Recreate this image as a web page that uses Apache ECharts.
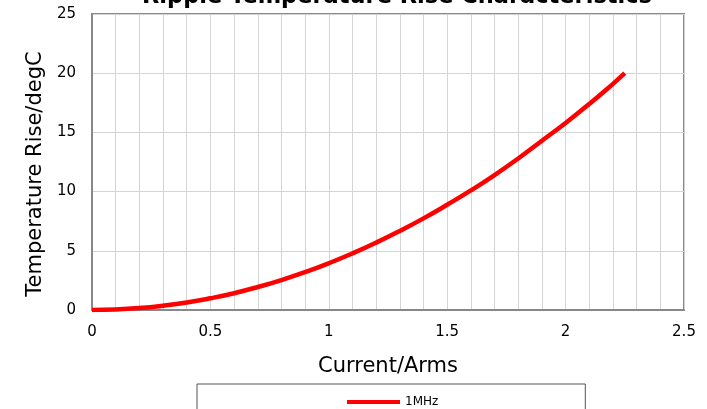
<!DOCTYPE html>
<html>
<head>
<meta charset="utf-8">
<script src="https://cdn.jsdelivr.net/npm/echarts@6/dist/echarts.min.js"></script>
<style>
  html, body { margin: 0; padding: 0; background: #fff; }
  #chart { width: 707px; height: 409px; }
</style>
</head>
<body>
<div id="chart"></div>
<script>
const currentArms = [0, 0.1, 0.2, 0.3, 0.4, 0.5, 0.6, 0.7, 0.8, 0.9, 1.0, 1.1, 1.2,
  1.3, 1.4, 1.5, 1.6, 1.7, 1.8, 1.9, 2.0, 2.1, 2.2, 2.25];
const tempRise1MHz = [0, 0.04, 0.16, 0.36, 0.63, 0.99, 1.42, 1.94, 2.53, 3.2, 3.95, 4.78, 5.69,
  6.68, 7.74, 8.89, 10.1, 11.4, 12.8, 14.3, 15.8, 17.4, 19.1, 20.0];

const FONT = '"DejaVu Sans", Verdana, sans-serif';
const chart = echarts.init(document.getElementById('chart'), null, { renderer: 'canvas' });

chart.setOption({
  animation: false,
  textStyle: { fontFamily: FONT },
  title: {
    text: 'Ripple Temperature Rise Characteristics',
    left: 137,
    top: -19,
    textStyle: { fontFamily: FONT, fontSize: 22.5, fontWeight: 'bold', color: '#000' }
  },
  grid: {
    left: 92, right: 23, top: 14, bottom: 99,
    show: true, borderColor: '#888', borderWidth: 2
  },
  legend: {
    data: ['1MHz'],
    icon: 'rect',
    left: 197,
    top: 384,
    padding: [12, 147, 12, 150],
    borderColor: '#555',
    borderWidth: 1,
    itemWidth: 53,
    itemHeight: 4,
    itemGap: 5,
    textStyle: { fontFamily: FONT, fontSize: 12, color: '#000' }
  },
  xAxis: {
    type: 'value',
    min: 0, max: 2.5, interval: 0.5,
    name: 'Current/Arms',
    nameLocation: 'middle',
    nameGap: 46,
    nameTextStyle: { fontFamily: FONT, fontSize: 21, color: '#000' },
    axisLine: { show: true, lineStyle: { color: '#888', width: 2 } },
    axisTick: { show: false },
    axisLabel: { margin: 15, fontSize: 15, color: '#000', fontFamily: FONT },
    splitLine: { show: true, lineStyle: { color: '#d4d4d4', width: 1 } },
    minorTick: { show: false, splitNumber: 5 },
    minorSplitLine: { show: true, lineStyle: { color: '#d4d4d4', width: 1 } }
  },
  yAxis: {
    type: 'value',
    min: 0, max: 25, interval: 5,
    name: 'Temperature Rise/degC',
    nameLocation: 'middle',
    nameGap: 45,
    nameTextStyle: { fontFamily: FONT, fontSize: 21, color: '#000', padding: [0, 24, 0, 0] },
    axisLine: { show: true, lineStyle: { color: '#888', width: 2 } },
    axisTick: { show: false },
    axisLabel: { margin: 16, fontSize: 15, color: '#000', fontFamily: FONT },
    splitLine: { show: true, lineStyle: { color: '#d4d4d4', width: 1 } }
  },
  series: [{
    name: '1MHz',
    type: 'line',
    smooth: true,
    symbol: 'none',
    lineStyle: { color: '#ff0000', width: 4.5 },
    itemStyle: { color: '#ff0000' },
    data: currentArms.map((x, i) => [x, tempRise1MHz[i]])
  }]
});
</script>
</body>
</html>
